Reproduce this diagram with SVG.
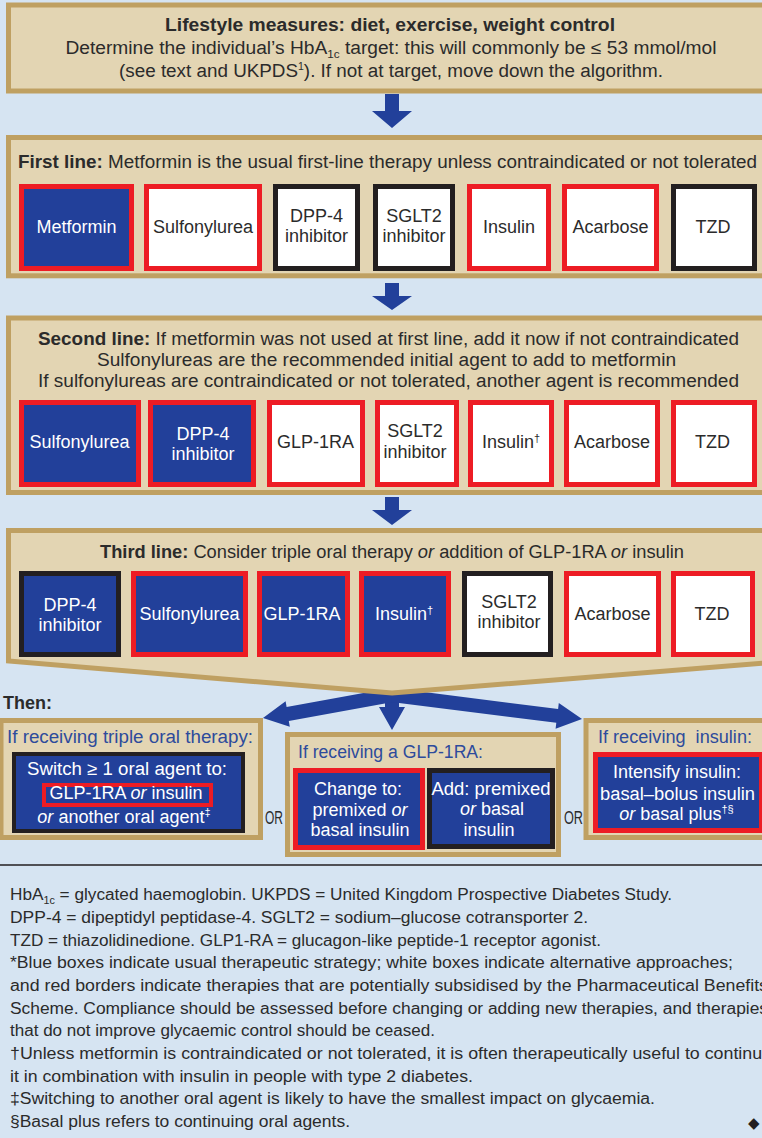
<svg xmlns="http://www.w3.org/2000/svg" width="762" height="1138" viewBox="0 0 762 1138">
<style>
.t{font-family:"Liberation Sans",Arial,sans-serif;font-size:18px;fill:#2b2b2b}
.b{font-weight:bold}
.i{font-style:italic}
.w{fill:#fff}
.m{text-anchor:middle}
.lbl{fill:#2d4b9c}
.fn{font-size:16px}
.panel{fill:#e3d5b3;stroke:#bfa062;stroke-width:5}
.blue{fill:#22409a}
.white{fill:#fff}
.red{stroke:#ed1c24;stroke-width:5}
.blk{stroke:#231f20;stroke-width:5}
.arrow{fill:#22409a}
</style>
<rect x="0" y="0" width="762" height="1138" fill="#d6e4f2"/>

<g id="connectors">
  <polygon class="arrow" points="385,94 399,94 399,111 412,111 392,128 372,111 385,111"/>
  <polygon class="arrow" points="385,283 399,283 399,296 412,296 392,310 372,296 385,296"/>
  <polygon class="arrow" points="385,497 399,497 399,510 412,510 392,525 372,510 385,510"/>
  <polygon class="arrow" points="385,685 399,685 399,707 405,707 392,730 379,707 385,707"/>
  <polygon class="arrow" points="390.9,688.1 286.6,707.1 285.6,701.2 263,718 289.8,726.8 288.8,720.9 393.1,701.9"/>
  <polygon class="arrow" points="392.9,688.1 558.1,709 558.8,703 582,719 555.6,728.8 556.3,722.8 391.1,701.9"/>
</g>

<g id="lifestyle">
  <rect class="panel" x="8.5" y="5" width="790" height="86"/>
  <text class="t b m" x="390" y="31" font-size="18.5" textLength="450" lengthAdjust="spacingAndGlyphs">Lifestyle measures: diet, exercise, weight control</text>
  <text class="t m" x="391" y="54" font-size="18.5" textLength="651" lengthAdjust="spacingAndGlyphs">Determine the individual’s HbA<tspan font-size="11" dy="4">1c</tspan><tspan dy="-4"> target: this will commonly be ≤ 53 mmol/mol</tspan></text>
  <text class="t m" x="391" y="77" font-size="18.5" textLength="544" lengthAdjust="spacingAndGlyphs">(see text and UKPDS<tspan font-size="10" dy="-7">1</tspan><tspan dy="7">). If not at target, move down the algorithm.</tspan></text>
</g>

<g id="first-line">
  <rect class="panel" x="8.5" y="137.5" width="790" height="138.3"/>
  <text class="t" x="18" y="168" textLength="739" lengthAdjust="spacingAndGlyphs"><tspan class="b">First line:</tspan> Metformin is the usual first-line therapy unless contraindicated or not tolerated</text>
  <g id="fl-metformin"><rect class="blue red" x="21.5" y="186.5" width="110" height="82"/><text class="t w m" x="76.5" y="233">Metformin</text></g>
  <g id="fl-sulfonylurea"><rect class="white red" x="146.5" y="186.5" width="113" height="82"/><text class="t m" x="203" y="233">Sulfonylurea</text></g>
  <g id="fl-dpp4"><rect class="white blk" x="275.5" y="186.5" width="82" height="82"/><text class="t m" x="316.5" y="222">DPP-4</text><text class="t m" x="316.5" y="242">inhibitor</text></g>
  <g id="fl-sglt2"><rect class="white blk" x="375.5" y="186.5" width="77" height="82"/><text class="t m" x="414" y="222">SGLT2</text><text class="t m" x="414" y="242">inhibitor</text></g>
  <g id="fl-insulin"><rect class="white red" x="469.5" y="186.5" width="79" height="82"/><text class="t m" x="509" y="233">Insulin</text></g>
  <g id="fl-acarbose"><rect class="white red" x="564.5" y="186.5" width="92" height="82"/><text class="t m" x="610.5" y="233">Acarbose</text></g>
  <g id="fl-tzd"><rect class="white blk" x="673.5" y="186.5" width="81" height="82"/><text class="t m" x="713" y="233">TZD</text></g>
</g>

<g id="second-line">
  <rect class="panel" x="8.5" y="318" width="790" height="174.5"/>
  <text class="t m" x="388.5" y="345" textLength="701" lengthAdjust="spacingAndGlyphs"><tspan class="b">Second line:</tspan> If metformin was not used at first line, add it now if not contraindicated</text>
  <text class="t m" x="386.5" y="366" textLength="579" lengthAdjust="spacingAndGlyphs">Sulfonylureas are the recommended initial agent to add to metformin</text>
  <text class="t m" x="388.5" y="387" textLength="701" lengthAdjust="spacingAndGlyphs">If sulfonylureas are contraindicated or not tolerated, another agent is recommended</text>
  <g id="sl-sulfonylurea"><rect class="blue red" x="21.5" y="402.5" width="117" height="82"/><text class="t w m" x="79.5" y="448">Sulfonylurea</text></g>
  <g id="sl-dpp4"><rect class="blue red" x="150.5" y="402.5" width="103" height="82"/><text class="t w m" x="203" y="440">DPP-4</text><text class="t w m" x="203" y="459.5">inhibitor</text></g>
  <g id="sl-glp1ra"><rect class="white red" x="269.5" y="402.5" width="93" height="82"/><text class="t m" x="315.5" y="448">GLP-1RA</text></g>
  <g id="sl-sglt2"><rect class="white red" x="377.5" y="402.5" width="79" height="82"/><text class="t m" x="415" y="436.5">SGLT2</text><text class="t m" x="415" y="457.5">inhibitor</text></g>
  <g id="sl-insulin"><rect class="white red" x="470.5" y="402.5" width="81" height="82"/><text class="t m" x="511" y="448">Insulin<tspan font-size="11" dy="-6">†</tspan></text></g>
  <g id="sl-acarbose"><rect class="white red" x="566.5" y="402.5" width="91" height="82"/><text class="t m" x="612" y="448">Acarbose</text></g>
  <g id="sl-tzd"><rect class="white red" x="673.5" y="402.5" width="81" height="82"/><text class="t m" x="712.5" y="448">TZD</text></g>
</g>

<g id="third-line">
  <path class="panel" d="M8.5,530.5 H790 V661 L392,693 L8.5,661 Z"/>
  <text class="t m" x="392" y="558" textLength="584" lengthAdjust="spacingAndGlyphs"><tspan class="b">Third line:</tspan> Consider triple oral therapy <tspan class="i">or</tspan> addition of GLP-1RA <tspan class="i">or</tspan> insulin</text>
  <g id="tl-dpp4"><rect class="blue blk" x="21.5" y="573.5" width="97" height="81"/><text class="t w m" x="70" y="610.5">DPP-4</text><text class="t w m" x="70" y="630.5">inhibitor</text></g>
  <g id="tl-sulfonylurea"><rect class="blue red" x="133.5" y="573.5" width="112" height="81"/><text class="t w m" x="189.5" y="619.5">Sulfonylurea</text></g>
  <g id="tl-glp1ra"><rect class="blue red" x="259.5" y="573.5" width="88" height="81"/><text class="t w m" x="302" y="619.5">GLP-1RA</text></g>
  <g id="tl-insulin"><rect class="blue red" x="361.5" y="573.5" width="87" height="81"/><text class="t w m" x="404" y="619.5">Insulin<tspan font-size="11" dy="-6">†</tspan></text></g>
  <g id="tl-sglt2"><rect class="white blk" x="464.5" y="573.5" width="86" height="81"/><text class="t m" x="509" y="608">SGLT2</text><text class="t m" x="509" y="628">inhibitor</text></g>
  <g id="tl-acarbose"><rect class="white red" x="566.5" y="573.5" width="92" height="81"/><text class="t m" x="612.5" y="619.5">Acarbose</text></g>
  <g id="tl-tzd"><rect class="white red" x="673.5" y="573.5" width="79" height="81"/><text class="t m" x="712" y="619.5">TZD</text></g>
</g>

<text class="t b" x="3" y="709">Then:</text>

<g id="triple-oral">
  <rect class="panel" x="1" y="720.5" width="259.5" height="117"/>
  <text class="t lbl" x="7" y="743" textLength="246" lengthAdjust="spacingAndGlyphs">If receiving triple oral therapy:</text>
  <rect class="blue" x="14" y="754" width="229" height="77" stroke="#231f20" stroke-width="4"/>
  <rect fill="none" x="44" y="785" width="167" height="20" stroke="#ed1c24" stroke-width="4"/>
  <text class="t w m" x="127" y="775" font-size="19" textLength="200" lengthAdjust="spacingAndGlyphs">Switch ≥ 1 oral agent to:</text>
  <text class="t w m" x="126" y="799" font-size="19">GLP-1RA <tspan class="i">or</tspan> insulin</text>
  <text class="t w m" x="124" y="823" font-size="19"><tspan class="i">or</tspan> another oral agent<tspan font-size="11" dy="-7">‡</tspan></text>
</g>

<g id="glp1ra">
  <rect class="panel" x="287.5" y="734.5" width="271" height="120"/>
  <text class="t lbl" x="298" y="758" textLength="185" lengthAdjust="spacingAndGlyphs">If receiving a GLP-1RA:</text>
  <g id="glp-change"><rect class="blue red" x="295.5" y="770.5" width="127" height="77"/>
    <text class="t w m" x="358" y="795" font-size="19">Change to:</text>
    <text class="t w m" x="360" y="816" font-size="19">premixed <tspan class="i">or</tspan></text>
    <text class="t w m" x="360" y="836" font-size="19">basal insulin</text></g>
  <g id="glp-add"><rect class="blue blk" x="429.5" y="770.5" width="123" height="76"/>
    <text class="t w m" x="491" y="795" font-size="19" textLength="119" lengthAdjust="spacingAndGlyphs">Add: premixed</text>
    <text class="t w m" x="492" y="815" font-size="19"><tspan class="i">or</tspan> basal</text>
    <text class="t w m" x="489" y="836" font-size="19">insulin</text></g>
</g>

<g id="insulin">
  <rect class="panel" x="586" y="720.5" width="200" height="117"/>
  <text class="t lbl" x="598" y="743" textLength="154" lengthAdjust="spacingAndGlyphs" style="white-space:pre">If receiving  insulin:</text>
  <rect class="blue red" x="595.5" y="754.5" width="166" height="76"/>
  <text class="t w m" x="677" y="778" font-size="19">Intensify insulin:</text>
  <text class="t w m" x="677.5" y="800" font-size="19" textLength="155" lengthAdjust="spacingAndGlyphs">basal–bolus insulin</text>
  <text class="t w m" x="676.5" y="820" font-size="19"><tspan class="i">or</tspan> basal plus<tspan font-size="11" dy="-7">†§</tspan></text>
</g>

<text class="t" x="265" y="824" textLength="18" lengthAdjust="spacingAndGlyphs">OR</text>
<text class="t" x="564" y="824" textLength="19" lengthAdjust="spacingAndGlyphs">OR</text>

<line x1="0" y1="865" x2="762" y2="865" stroke="#231f20" stroke-width="1.5"/>

<g id="footnotes">
  <text class="t fn" x="10" y="900" textLength="662" lengthAdjust="spacingAndGlyphs">HbA<tspan font-size="10" dy="4">1c</tspan><tspan dy="-4"> = glycated haemoglobin. UKPDS = United Kingdom Prospective Diabetes Study.</tspan></text>
  <text class="t fn" x="10" y="923" textLength="578" lengthAdjust="spacingAndGlyphs">DPP-4 = dipeptidyl peptidase-4. SGLT2 = sodium–glucose cotransporter 2.</text>
  <text class="t fn" x="10" y="946" textLength="591" lengthAdjust="spacingAndGlyphs">TZD = thiazolidinedione. GLP1-RA = glucagon-like peptide-1 receptor agonist.</text>
  <text class="t fn" x="10" y="968" textLength="723" lengthAdjust="spacingAndGlyphs">*Blue boxes indicate usual therapeutic strategy; white boxes indicate alternative approaches;</text>
  <text class="t fn" x="10" y="991" textLength="758" lengthAdjust="spacingAndGlyphs">and red borders indicate therapies that are potentially subsidised by the Pharmaceutical Benefits</text>
  <text class="t fn" x="10" y="1014" textLength="758" lengthAdjust="spacingAndGlyphs">Scheme. Compliance should be assessed before changing or adding new therapies, and therapies</text>
  <text class="t fn" x="10" y="1036" textLength="425" lengthAdjust="spacingAndGlyphs">that do not improve glycaemic control should be ceased.</text>
  <text class="t fn" x="10" y="1059" textLength="762" lengthAdjust="spacingAndGlyphs">†Unless metformin is contraindicated or not tolerated, it is often therapeutically useful to continue</text>
  <text class="t fn" x="10" y="1082" textLength="463" lengthAdjust="spacingAndGlyphs">it in combination with insulin in people with type 2 diabetes.</text>
  <text class="t fn" x="10" y="1104" textLength="645" lengthAdjust="spacingAndGlyphs">‡Switching to another oral agent is likely to have the smallest impact on glycaemia.</text>
  <text class="t fn" x="10" y="1127" textLength="340" lengthAdjust="spacingAndGlyphs">§Basal plus refers to continuing oral agents.</text>
  <text x="748" y="1128" font-family="DejaVu Sans,sans-serif" font-size="15" fill="#231f20">◆</text>
</g>
</svg>
